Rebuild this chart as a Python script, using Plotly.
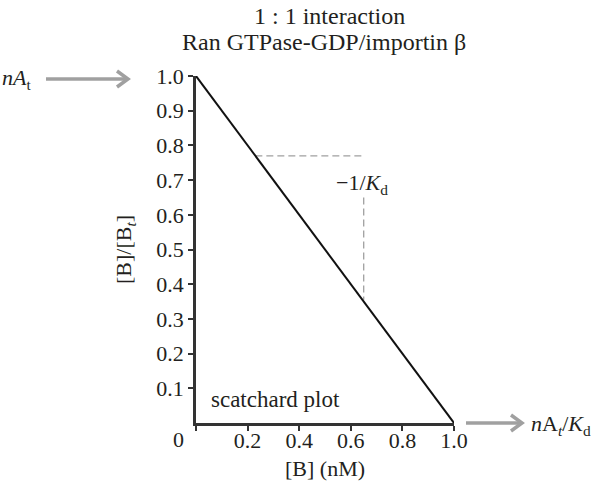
import plotly.graph_objects as go

# Scatchard line
bound = [0.0, 1.0]
ratio = [1.0, 0.0]

# slope guide (dashed)
guide_h_x = [0.23, 0.65]
guide_h_y = [0.77, 0.77]
guide_v_x = [0.65, 0.65]
guide_v_y = [0.65, 0.355]

x_ticks = [0, 0.2, 0.4, 0.6, 0.8, 1.0]
x_ticktext = [" ", "0.2", "0.4", "0.6", "0.8", "1.0"]
y_ticks = [0.1, 0.2, 0.3, 0.4, 0.5, 0.6, 0.7, 0.8, 0.9, 1.0]
y_ticktext = ["0.1", "0.2", "0.3", "0.4", "0.5", "0.6", "0.7", "0.8", "0.9", "1.0"]

FONT = "Liberation Serif"
TXT = "#231f20"
GREY = "#a0a0a0"

# plot area in pixels
L, R, T, B = 196, 454, 76, 423


def px(x):
    return (x - L) / (R - L)


def py(y):
    return (B - y) / (B - T)


fig = go.Figure()

fig.add_trace(go.Scatter(x=guide_h_x, y=guide_h_y, mode="lines",
                         line=dict(color=GREY, width=1.3, dash="7px,4px"),
                         hoverinfo="skip", cliponaxis=False))
fig.add_trace(go.Scatter(x=guide_v_x, y=guide_v_y, mode="lines",
                         line=dict(color=GREY, width=1.3, dash="7px,4px"),
                         hoverinfo="skip", cliponaxis=False))
fig.add_trace(go.Scatter(x=bound, y=ratio, mode="lines",
                         line=dict(color="#111111", width=2),
                         cliponaxis=False))

shapes = []


def arrow(x0, x1, y):
    # shaft + chevron head, in paper coords
    shapes.append(dict(type="line", xref="paper", yref="paper",
                       x0=px(x0), x1=px(x1 - 2), y0=py(y), y1=py(y),
                       line=dict(color=GREY, width=3.5)))
    shapes.append(dict(type="path", xref="paper", yref="paper",
                       path="M {} {} L {} {} L {} {}".format(
                           px(x1 - 11), py(y - 8), px(x1), py(y),
                           px(x1 - 11), py(y + 8)),
                       line=dict(color=GREY, width=3.5)))


arrow(46, 128, 79)
arrow(466, 522, 423)


def note(x, y, text, size=22, xanchor="center", **kw):
    return dict(x=px(x), y=py(y), xref="paper", yref="paper", showarrow=False,
                xanchor=xanchor, yanchor="middle", text=text,
                font=dict(size=size), **kw)


annotations = [
    note(329, 16, "1 : 1 interaction", size=24),
    note(324, 42, "Ran GTPase-GDP/importin β", size=24),
    note(0, 79, "<i>nA</i><sub>t</sub>", xanchor="left"),
    note(529, 425, "<i>n</i>A<sub><i>t</i></sub>/<i>K</i><sub>d</sub>", xanchor="left"),
    note(178, 439, "0"),
    note(125, 250, "[B]/[B<sub><i>t</i></sub>]", textangle=-90),
    note(325, 468, "[B] (nM)"),
    note(362, 184, "−1/<i>K</i><sub>d</sub>"),
    note(209, 399, "scatchard plot", size=23, xanchor="left"),
]

fig.update_layout(
    width=600, height=487,
    margin=dict(l=L, r=600 - R, t=T, b=487 - B),
    paper_bgcolor="white", plot_bgcolor="white",
    showlegend=False,
    font=dict(family=FONT, color=TXT, size=22),
    shapes=shapes,
    annotations=annotations,
    xaxis=dict(range=[0, 1], tickvals=x_ticks, ticktext=x_ticktext,
               showgrid=False, zeroline=False, showline=True,
               linecolor="#333333", linewidth=2.5, ticks="outside",
               ticklen=5, tickwidth=1.5, tickcolor="#333333",
               ticklabelstandoff=-9, tickfont=dict(size=22)),
    yaxis=dict(range=[0, 1], tickvals=y_ticks, ticktext=y_ticktext,
               showgrid=False, zeroline=False, showline=True,
               linecolor="#333333", linewidth=2.5, ticks="outside",
               ticklen=5, tickwidth=1.5, tickcolor="#333333",
               tickfont=dict(size=22)),
)

fig.write_html("out.html", config={"displayModeBar": False},
               post_script="document.body.style.margin='0px';")
